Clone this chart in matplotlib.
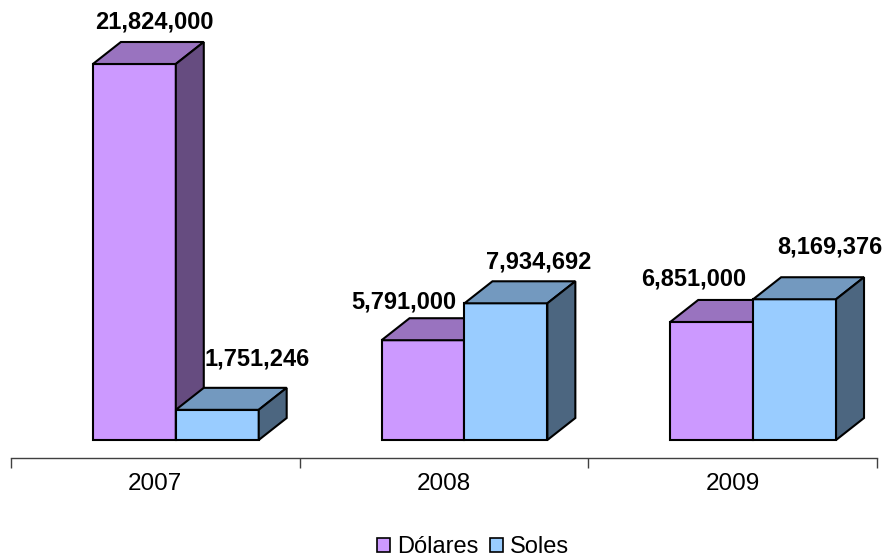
import numpy as np
import matplotlib.pyplot as plt
from matplotlib.patches import Polygon, Patch

plt.rcParams['font.family'] = ['Liberation Sans', 'DejaVu Sans']

years = ['2007', '2008', '2009']
dolares = [21824000, 5791000, 6851000]
soles = [1751246, 7934692, 8169376]
series_names = ['Dólares', 'Soles']

# colors: front, top, side
colors = {
    'Dólares': ('#CC99FF', '#9973BF', '#664C80'),
    'Soles': ('#99CCFF', '#7399BF', '#4C6680'),
}

# label offsets in pixels (x, y) from top-front center, picked to match the original
label_offsets = [[(20, 42), (40, 51)], [(-19, 38), (33, 41)], [(-18, 43), (35, 52)]]

fig = plt.figure(figsize=(8.85, 5.58), dpi=100)
W, H = 885, 558
px_val = 21824000 / 376.0  # value per pixel
ax = fig.add_axes([11 / W, (H - 458) / H, 866 / W, 458 / H])
ax.set_xlim(-0.5, 2.5)
ax.set_ylim(-18 * px_val, 440 * px_val)

bar_w = 83 / 289.0
dx = 28 / 289.0
dy = 22 * px_val
start = (93 - 155.5) / 289.0

for i in range(len(years)):
    for j, vals in enumerate([dolares, soles]):
        v = vals[i]
        x0 = i + start + j * bar_w
        x1 = x0 + bar_w
        front, top, side = colors[series_names[j]]
        kw = dict(edgecolor='black', linewidth=1.5, joinstyle='miter', clip_on=False)
        ax.add_patch(Polygon([(x0, 0), (x1, 0), (x1, v), (x0, v)], facecolor=front, **kw))
        ax.add_patch(Polygon([(x0, v), (x1, v), (x1 + dx, v + dy), (x0 + dx, v + dy)], facecolor=top, **kw))
        ax.add_patch(Polygon([(x1, 0), (x1 + dx, dy), (x1 + dx, v + dy), (x1, v)], facecolor=side, **kw))
        ox, oy = label_offsets[i][j]
        ax.annotate(f'{v:,}', xy=((x0 + x1) / 2, v), xytext=(ox, oy), textcoords='offset pixels',
                    ha='center', va='center', fontsize=17, fontweight='bold', annotation_clip=False)

for s in ['left', 'right', 'top']:
    ax.spines[s].set_visible(False)
ax.spines['bottom'].set_color('#404040')
ax.spines['bottom'].set_linewidth(1)
ax.set_yticks([])
ax.set_xticks([-0.5, 0.5, 1.5, 2.5])
ax.set_xticklabels([])
ax.tick_params(axis='x', which='major', length=7, width=1, color='#404040', direction='out')
ax.set_xticks(range(len(years)), minor=True)
ax.set_xticklabels(years, minor=True, fontsize=17.5)
ax.tick_params(axis='x', which='minor', length=0, pad=11)

handles = [Patch(facecolor=colors[n][0], edgecolor='black', linewidth=1.2, label=n) for n in series_names]
fig.legend(handles=handles, loc='center', bbox_to_anchor=(473 / W, 1 - 547 / H), ncol=2, frameon=False,
           fontsize=17, handlelength=0.55, handleheight=0.55, handletextpad=0.3, columnspacing=0.5)

fig.savefig('out.png', dpi=100)
